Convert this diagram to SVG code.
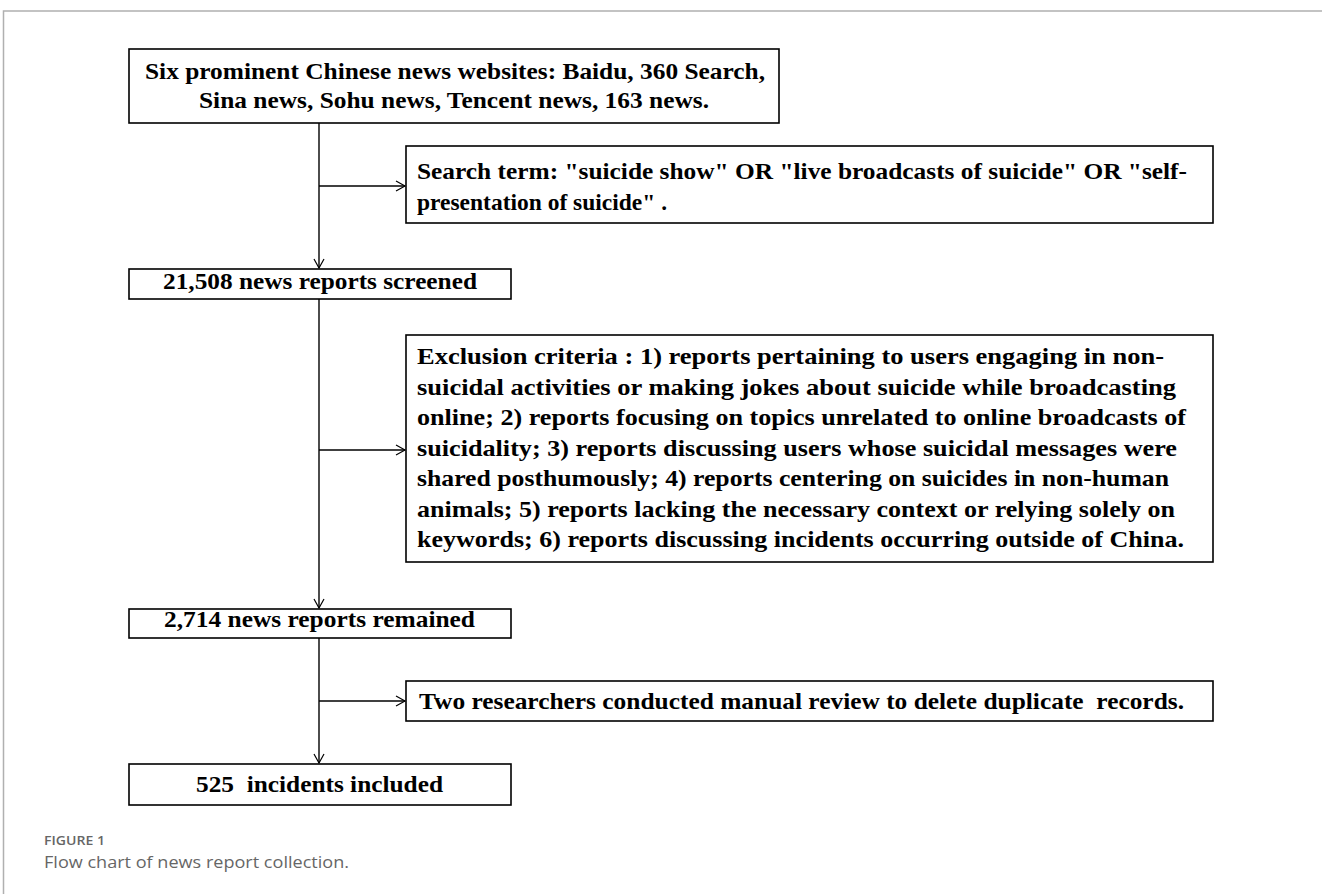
<svg xmlns="http://www.w3.org/2000/svg" width="1322" height="894" viewBox="0 0 1322 894">
<defs>
<marker id="arr" markerWidth="12" markerHeight="12" refX="10" refY="6" orient="auto" markerUnits="userSpaceOnUse">
<path d="M1,1 L10,6 L1,11" fill="none" stroke="#000" stroke-width="1.2"/>
</marker>
<style>
.box{fill:#fff;stroke:#000;stroke-width:1.6}
.t{font-family:"Liberation Serif","Times New Roman",Tinos,serif;font-weight:bold;font-size:23px;fill:#000;white-space:pre}
.ln{fill:none;stroke:#000;stroke-width:1.4}
.cap{font-family:"Open Sans","Noto Sans",sans-serif;fill:#666}
</style>
</defs>
<rect width="1322" height="894" fill="#fff"/>
<path d="M3.5,894 V11 H1322" fill="none" stroke="#b0b0b0" stroke-width="1.5"/>
<g id="connectors">
<path class="ln" d="M319,123 V268" marker-end="url(#arr)"/>
<path class="ln" d="M319,186 H405" marker-end="url(#arr)"/>
<path class="ln" d="M319,299 V608" marker-end="url(#arr)"/>
<path class="ln" d="M319,450 H405" marker-end="url(#arr)"/>
<path class="ln" d="M319,638 V763" marker-end="url(#arr)"/>
<path class="ln" d="M319,701 H405" marker-end="url(#arr)"/>
</g>
<g id="n1">
<rect class="box" x="129" y="49" width="650" height="74"/>
<text class="t" x="145" y="79" textLength="620" lengthAdjust="spacingAndGlyphs">Six prominent Chinese news websites: Baidu, 360 Search,</text>
<text class="t" x="199" y="108" textLength="510" lengthAdjust="spacingAndGlyphs">Sina news, Sohu news, Tencent news, 163 news.</text>
</g>
<g id="n2">
<rect class="box" x="406" y="146" width="807" height="77"/>
<text class="t" x="417" y="179" textLength="770" lengthAdjust="spacingAndGlyphs">Search term: "suicide show" OR "live broadcasts of suicide" OR "self-</text>
<text class="t" x="417" y="210" textLength="250" lengthAdjust="spacingAndGlyphs">presentation of suicide" .</text>
</g>
<g id="n3">
<rect class="box" x="129" y="269" width="382" height="30"/>
<text class="t" x="163" y="289" textLength="314" lengthAdjust="spacingAndGlyphs">21,508 news reports screened</text>
</g>
<g id="n4">
<rect class="box" x="406" y="335" width="807" height="227"/>
<text class="t" x="417" y="364" textLength="747" lengthAdjust="spacingAndGlyphs">Exclusion criteria : 1) reports pertaining to users engaging in non-</text>
<text class="t" x="417" y="394.5" textLength="759" lengthAdjust="spacingAndGlyphs">suicidal activities or making jokes about suicide while broadcasting</text>
<text class="t" x="417" y="425" textLength="769" lengthAdjust="spacingAndGlyphs">online; 2) reports focusing on topics unrelated to online broadcasts of</text>
<text class="t" x="417" y="455.5" textLength="760" lengthAdjust="spacingAndGlyphs">suicidality; 3) reports discussing users whose suicidal messages were</text>
<text class="t" x="417" y="486" textLength="752" lengthAdjust="spacingAndGlyphs">shared posthumously; 4) reports centering on suicides in non-human</text>
<text class="t" x="417" y="516.5" textLength="758" lengthAdjust="spacingAndGlyphs">animals; 5) reports lacking the necessary context or relying solely on</text>
<text class="t" x="417" y="547" textLength="767" lengthAdjust="spacingAndGlyphs">keywords; 6) reports discussing incidents occurring outside of China.</text>
</g>
<g id="n5">
<rect class="box" x="129" y="609" width="382" height="29"/>
<text class="t" x="164" y="627" textLength="311" lengthAdjust="spacingAndGlyphs">2,714 news reports remained</text>
</g>
<g id="n6">
<rect class="box" x="406" y="681" width="807" height="40"/>
<text class="t" x="419" y="709" textLength="765" lengthAdjust="spacingAndGlyphs">Two researchers conducted manual review to delete duplicate  records.</text>
</g>
<g id="n7">
<rect class="box" x="129" y="764" width="382" height="41"/>
<text class="t" x="196" y="792" textLength="247" lengthAdjust="spacingAndGlyphs">525  incidents included</text>
</g>
<text class="cap" x="44" y="845" font-size="12.5" font-weight="600" textLength="61" lengthAdjust="spacingAndGlyphs">FIGURE 1</text>
<text class="cap" x="44" y="868" font-size="17" textLength="305" lengthAdjust="spacingAndGlyphs">Flow chart of news report collection.</text>
</svg>
